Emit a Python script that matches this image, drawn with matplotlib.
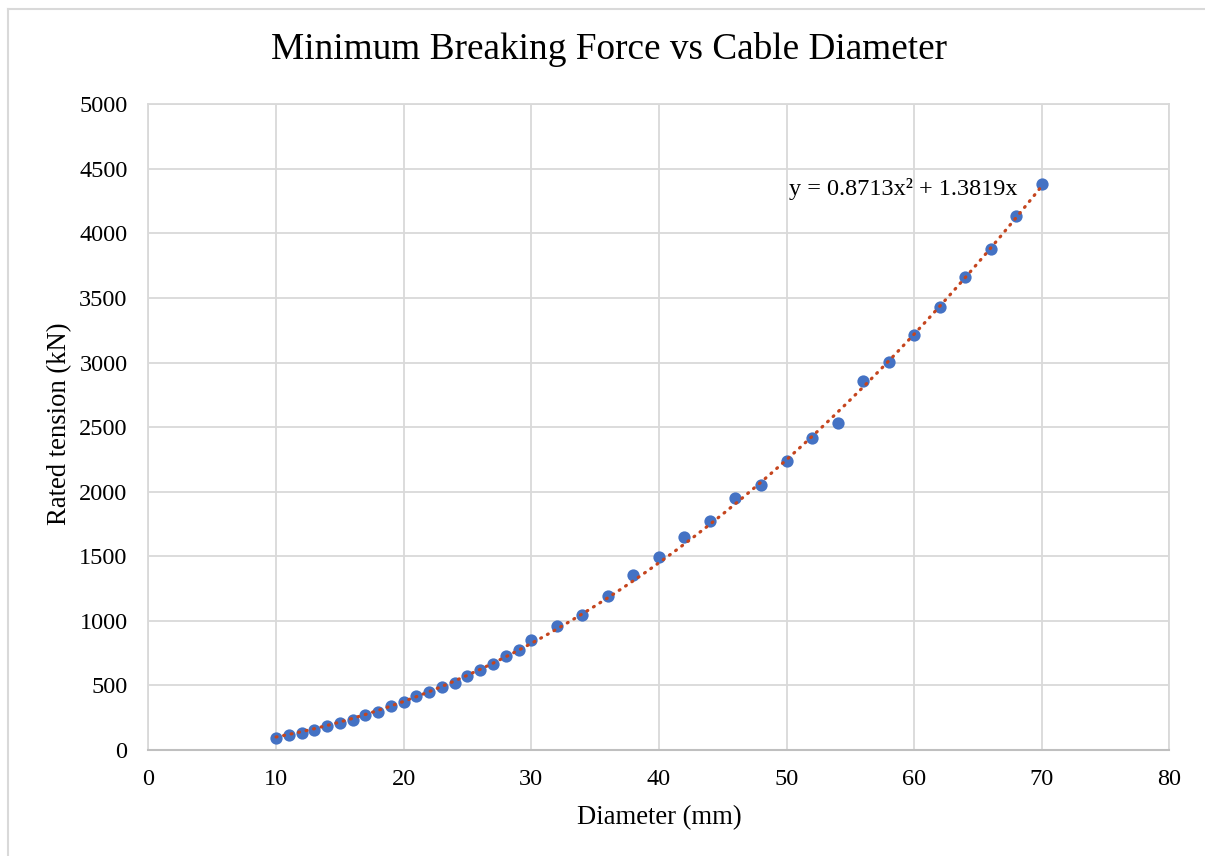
import numpy as np
import matplotlib
matplotlib.use('Agg')
import matplotlib.pyplot as plt
from matplotlib.lines import Line2D

plt.rcParams['font.family'] = ['Liberation Serif', 'DejaVu Serif']

# cable diameters (mm) and rated tension (kN)
diameter = [10, 11, 12, 13, 14, 15, 16, 17, 18, 19, 20, 21, 22, 23, 24, 25,
            26, 27, 28, 29, 30, 32, 34, 36, 38, 40, 42, 44, 46, 48, 50, 52,
            54, 56, 58, 60, 62, 64, 66, 68, 70]
tension = [91, 114, 134, 157, 186, 209, 235, 269, 292, 338, 372, 416, 450,
           491, 517, 576, 620, 664, 731, 773, 853, 961, 1047, 1194, 1357,
           1494, 1649, 1773, 1953, 2054, 2238, 2416, 2532, 2855, 3005, 3217,
           3434, 3661, 3876, 4134, 4380]

# polynomial trendline coefficients (y = a*x^2 + b*x)
fit_a = 0.8713
fit_b = 1.3819

x_ticks = [0, 10, 20, 30, 40, 50, 60, 70, 80]
y_ticks = [0, 500, 1000, 1500, 2000, 2500, 3000, 3500, 4000, 4500, 5000]

fig = plt.figure(figsize=(12.05, 8.56), dpi=100)
ax = fig.add_axes([0.1232, 0.1238, 0.8472, 0.7544])

xs = np.linspace(min(diameter), max(diameter), 300)
ax.scatter(diameter, tension, s=78, color='#4472C4', zorder=3, linewidths=0)
ax.plot(xs, fit_a * xs**2 + fit_b * xs, color='#C5451E', lw=2.3,
        linestyle=(0, (0.3, 2.1)), dash_capstyle='round', zorder=4)

ax.set_xlim(0, 80)
ax.set_ylim(0, 5000)
ax.set_xticks(x_ticks)
ax.set_yticks(y_ticks)
ax.tick_params(length=0, labelsize=17.5, colors='black')
ax.tick_params(axis='y', pad=15)
ax.tick_params(axis='x', pad=14)
ax.grid(True, color='#D9D9D9', lw=1.3)
ax.set_axisbelow(True)
for side in ['top', 'right', 'left']:
    ax.spines[side].set_color('#D9D9D9')
    ax.spines[side].set_linewidth(1.3)
ax.spines['bottom'].set_color('#BFBFBF')
ax.spines['bottom'].set_linewidth(1.5)

ax.text(50.2, 4345, f'y = {fit_a}x\u00b2 + {fit_b}x', fontsize=17.5,
        ha='left', va='center')

fig.text(0.505, 0.9416, 'Minimum Breaking Force vs Cable Diameter',
         fontsize=26.8, ha='center', va='center')
fig.text(0.547, 0.0444, 'Diameter (mm)', fontsize=19.2, ha='center', va='center')
fig.text(0.0498, 0.5047, 'Rated tension (kN)', fontsize=19.2, ha='center',
         va='center', rotation=90)

# chart area border
fig.add_artist(Line2D([0.0065, 0.0065], [0, 0.990], color='#D9D9D9', lw=1.5))
fig.add_artist(Line2D([0.0065, 1], [0.990, 0.990], color='#D9D9D9', lw=1.5))

fig.savefig('out.png', dpi=100)
